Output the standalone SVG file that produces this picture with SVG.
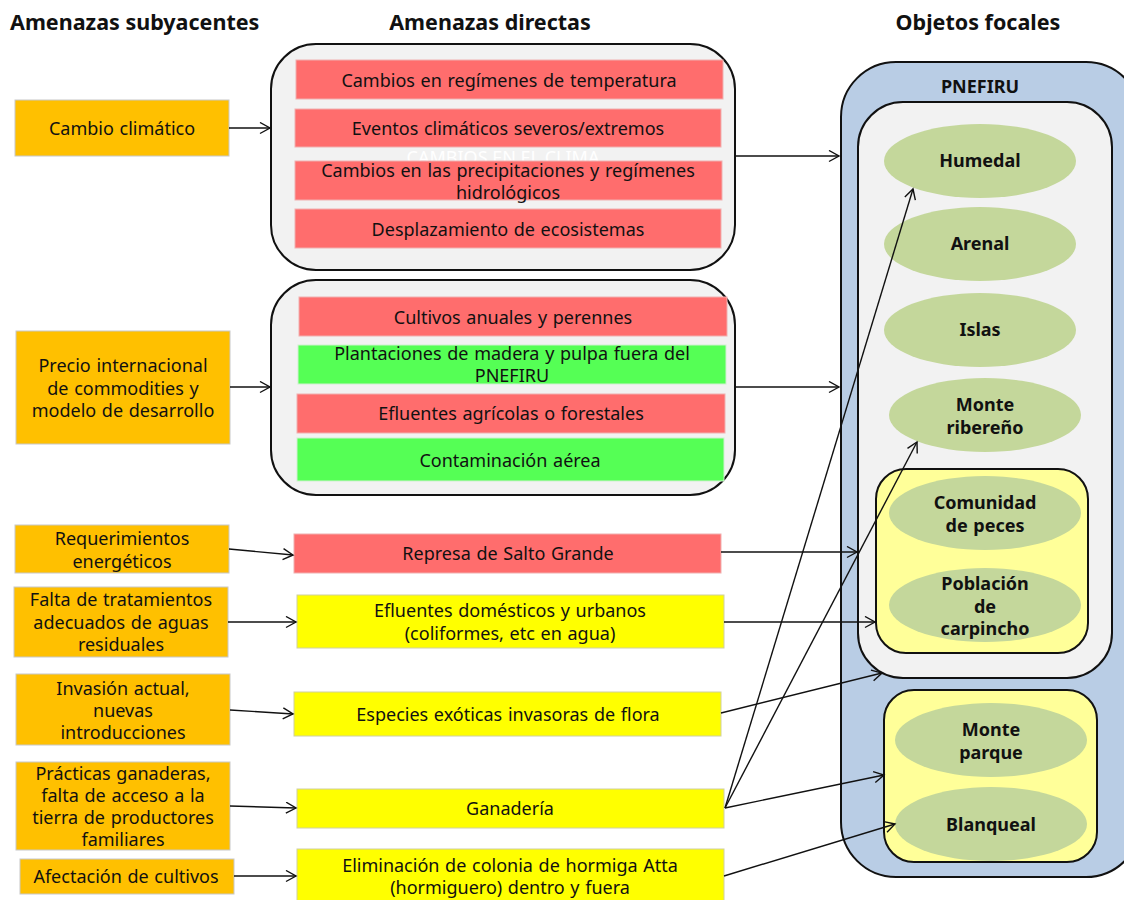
<svg xmlns="http://www.w3.org/2000/svg" width="1124" height="900" viewBox="0 0 1124 900">
<defs>
<marker id="ah" markerUnits="userSpaceOnUse" markerWidth="14" markerHeight="14" refX="11" refY="6" orient="auto">
<path d="M1,0.5 L11,6 L1,11.5" fill="none" stroke="#111" stroke-width="1.4"/>
</marker>
<style>
text{font-family:"Noto Sans","Open Sans","DejaVu Sans",sans-serif;font-size:18px;fill:#111;text-anchor:middle;word-spacing:1px}
.h{font-size:21.5px;font-weight:bold;text-anchor:start;word-spacing:0}
.b{font-weight:bold}
.org{fill:#FFC000;stroke:#c8c8c8;stroke-width:1}
.red{fill:#FF6D6D;stroke:#f0b0b0;stroke-width:1}
.grn{fill:#55FF55;stroke:#d0f0d0;stroke-width:1}
.yel{fill:#FFFF00;stroke:#d0d0a0;stroke-width:1}
.grp{fill:#F2F2F2;stroke:#111;stroke-width:2}
.ell{fill:#C4D79B}
.conn line{stroke:#111;stroke-width:1.4;marker-end:url(#ah)}
</style>
</defs>
<rect width="1124" height="900" fill="#fff"/>

<g id="headers">
<text class="h" x="10" y="30">Amenazas subyacentes</text>
<text class="h" x="490" y="30" style="text-anchor:middle">Amenazas directas</text>
<text class="h" x="978" y="30" style="text-anchor:middle">Objetos focales</text>
</g>

<g id="pnefiru">
<rect x="841" y="62" width="300" height="815" rx="55" fill="#B9CDE5" stroke="#111" stroke-width="2"/>
<text class="b" x="980" y="93">PNEFIRU</text>
</g>
<g id="inner-box">
<rect class="grp" x="858" y="102" width="254" height="576" rx="45"/>
</g>
<g id="humedal"><ellipse class="ell" cx="980" cy="161" rx="96" ry="37"/><text class="b" x="980" y="167">Humedal</text></g>
<g id="arenal"><ellipse class="ell" cx="980" cy="244" rx="96" ry="37"/><text class="b" x="980" y="250">Arenal</text></g>
<g id="islas"><ellipse class="ell" cx="980" cy="330" rx="96" ry="37"/><text class="b" x="980" y="336">Islas</text></g>
<g id="monte-ribereno"><ellipse class="ell" cx="985" cy="415" rx="96" ry="37"/><text class="b" x="985" y="411">Monte</text><text class="b" x="985" y="434">ribereño</text></g>
<g id="yellow-box-1"><rect x="876" y="469" width="212" height="184" rx="30" fill="#FFFF99" stroke="#111" stroke-width="2"/></g>
<g id="peces"><ellipse class="ell" cx="985" cy="513" rx="96" ry="37"/><text class="b" x="985" y="509">Comunidad</text><text class="b" x="985" y="532">de peces</text></g>
<g id="carpincho"><ellipse class="ell" cx="985" cy="605" rx="96" ry="37"/><text class="b" x="985" y="590">Población</text><text class="b" x="985" y="613">de</text><text class="b" x="985" y="635">carpincho</text></g>
<g id="yellow-box-2"><rect x="884" y="690" width="213" height="172" rx="30" fill="#FFFF99" stroke="#111" stroke-width="2"/></g>
<g id="monte-parque"><ellipse class="ell" cx="991" cy="740" rx="96" ry="37"/><text class="b" x="991" y="736">Monte</text><text class="b" x="991" y="759">parque</text></g>
<g id="blanqueal"><ellipse class="ell" cx="991" cy="824" rx="96" ry="37"/><text class="b" x="991" y="831">Blanqueal</text></g>

<g id="clima-group">
<rect class="grp" x="271" y="44" width="464" height="226" rx="45"/>
<text x="503" y="164" style="fill:#fff;font-size:18px;word-spacing:0">CAMBIOS EN EL CLIMA</text>
<rect class="red" x="296" y="60" width="427" height="39"/>
<text x="509" y="87">Cambios en regímenes de temperatura</text>
<rect class="red" x="295" y="109" width="426" height="38"/>
<text x="508" y="135">Eventos climáticos severos/extremos</text>
<rect class="red" x="295" y="161" width="427" height="39"/>
<text x="508" y="177">Cambios en las precipitaciones y regímenes</text>
<text x="508" y="199">hidrológicos</text>
<rect class="red" x="295" y="209" width="426" height="39"/>
<text x="508" y="236">Desplazamiento de ecosistemas</text>
</g>

<g id="agro-group">
<rect class="grp" x="271" y="280" width="464" height="215" rx="45"/>
<rect class="red" x="299" y="297" width="428" height="39"/>
<text x="513" y="324">Cultivos anuales y perennes</text>
<rect class="grn" x="298" y="345" width="428" height="39"/>
<text x="512" y="360">Plantaciones de madera y pulpa fuera del</text>
<text x="512" y="382">PNEFIRU</text>
<rect class="red" x="297" y="394" width="428" height="39"/>
<text x="511" y="420">Efluentes agrícolas o forestales</text>
<rect class="grn" x="297" y="438" width="427" height="43"/>
<text x="510" y="467">Contaminación aérea</text>
</g>

<g id="represa"><rect class="red" x="294" y="534" width="427" height="39"/><text x="508" y="560">Represa de Salto Grande</text></g>
<g id="efluentes-domesticos"><rect class="yel" x="297" y="595" width="427" height="53"/><text x="510" y="617">Efluentes domésticos y urbanos</text><text x="510" y="640">(coliformes, etc en agua)</text></g>
<g id="especies"><rect class="yel" x="294" y="692" width="427" height="44"/><text x="508" y="721">Especies exóticas invasoras de flora</text></g>
<g id="ganaderia"><rect class="yel" x="297" y="789" width="427" height="39"/><text x="510" y="815">Ganadería</text></g>
<g id="hormiga"><rect class="yel" x="297" y="849" width="427" height="56"/><text x="510" y="872">Eliminación de colonia de hormiga Atta</text><text x="510" y="894">(hormiguero) dentro y fuera</text></g>

<g id="cambio-climatico"><rect class="org" x="15" y="100" width="214" height="56"/><text x="122" y="135">Cambio climático</text></g>
<g id="precio"><rect class="org" x="16" y="331" width="214" height="113"/><text x="123" y="372">Precio internacional</text><text x="123" y="395">de commodities y</text><text x="123" y="417">modelo de desarrollo</text></g>
<g id="requerimientos"><rect class="org" x="15" y="525" width="214" height="48"/><text x="122" y="545">Requerimientos</text><text x="122" y="568">energéticos</text></g>
<g id="falta-tratamientos"><rect class="org" x="14" y="587" width="214" height="70"/><text x="121" y="606">Falta de tratamientos</text><text x="121" y="629">adecuados de aguas</text><text x="121" y="651">residuales</text></g>
<g id="invasion"><rect class="org" x="16" y="674" width="214" height="71"/><text x="123" y="695">Invasión actual,</text><text x="123" y="717">nuevas</text><text x="123" y="739">introducciones</text></g>
<g id="practicas"><rect class="org" x="16" y="762" width="214" height="88"/><text x="123" y="780">Prácticas ganaderas,</text><text x="123" y="802">falta de acceso a la</text><text x="123" y="824">tierra de productores</text><text x="123" y="846">familiares</text></g>
<g id="afectacion"><rect class="org" x="20" y="859" width="214" height="35"/><text x="126" y="883">Afectación de cultivos</text></g>

<g class="conn" id="connectors">
<line x1="229" y1="128" x2="270" y2="128"/>
<line x1="230" y1="387" x2="270" y2="387"/>
<line x1="229" y1="549" x2="293" y2="555"/>
<line x1="228" y1="622" x2="296" y2="622"/>
<line x1="230" y1="710" x2="293" y2="714"/>
<line x1="230" y1="806" x2="296" y2="808"/>
<line x1="234" y1="876" x2="296" y2="876"/>
<line x1="735" y1="156" x2="839" y2="156"/>
<line x1="735" y1="387" x2="839" y2="387"/>
<line x1="721" y1="552" x2="857" y2="552"/>
<line x1="724" y1="622" x2="875" y2="622"/>
<line x1="721" y1="713" x2="882" y2="673"/>
<line x1="725" y1="808" x2="913" y2="189"/>
<line x1="725" y1="808" x2="917" y2="442"/>
<line x1="725" y1="808" x2="884" y2="775"/>
<line x1="724" y1="876" x2="895" y2="824"/>
</g>
</svg>
